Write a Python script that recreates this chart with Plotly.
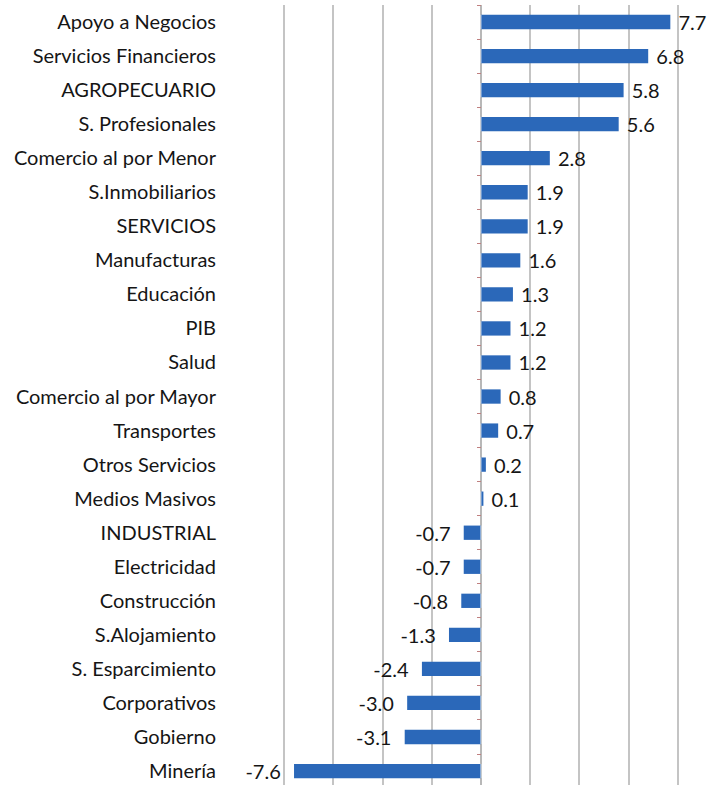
import plotly.graph_objects as go

categories = ["Apoyo a Negocios", "Servicios Financieros", "AGROPECUARIO", "S. Profesionales",
              "Comercio al por Menor", "S.Inmobiliarios", "SERVICIOS", "Manufacturas", "Educación",
              "PIB", "Salud", "Comercio al por Mayor", "Transportes", "Otros Servicios",
              "Medios Masivos", "INDUSTRIAL", "Electricidad", "Construcción", "S.Alojamiento",
              "S. Esparcimiento", "Corporativos", "Gobierno", "Minería"]
values = [7.7, 6.8, 5.8, 5.6, 2.8, 1.9, 1.9, 1.6, 1.3, 1.2, 1.2, 0.8, 0.7, 0.2, 0.1,
          -0.7, -0.7, -0.8, -1.3, -2.4, -3.0, -3.1, -7.6]

NB = "\u00a0"
labels = [(NB + f"{v:.1f}") if v >= 0 else (f"{v:.1f}" + NB * 2) for v in values]

FONT = "Lato, sans-serif"
xmin, xmax = -10, 9.76
yrange = [22.41, -0.5]

fig = go.Figure()
fig.add_trace(go.Bar(
    x=values, y=categories, orientation="h",
    marker=dict(color="#2b68b9", line=dict(width=0)),
    width=0.42,
    text=labels, textposition="outside", cliponaxis=False, constraintext="none",
    textfont=dict(family=FONT, size=20, color="#151515"),
    hoverinfo="x+y",
    showlegend=False,
))
# invisible trace on secondary y axis for zero-axis tick marks
fig.add_trace(go.Bar(x=[0] * len(categories), y=categories, orientation="h",
                     yaxis="y2", marker=dict(color="rgba(0,0,0,0)"), showlegend=False,
                     hoverinfo="skip"))

fig.update_layout(
    width=721, height=785,
    margin=dict(l=235, r=0, t=5, b=0),
    paper_bgcolor="white", plot_bgcolor="white",
    bargap=0.58,
    xaxis=dict(range=[xmin, xmax], dtick=2, tick0=0, showgrid=True, gridcolor="#c4c4c4",
               gridwidth=2, showticklabels=False, zeroline=True, zerolinecolor="#b8b8b8",
               zerolinewidth=2, showline=False, ticks=""),
    yaxis=dict(categoryorder="array", categoryarray=categories,
               range=yrange, autorange=False, showgrid=False, showline=False, ticks="",
               tickfont=dict(family=FONT, size=20, color="#151515"),
               ticklabelstandoff=18),
    yaxis2=dict(overlaying="y", anchor="free", categoryorder="array", categoryarray=categories,
                range=yrange, autorange=False,
                position=(0 - xmin) / (xmax - xmin), side="left",
                showticklabels=False, showgrid=False, showline=False,
                ticks="outside", ticklen=4, tickcolor="#c08080", tickwidth=1,
                tickson="boundaries"),
)

fig.write_html("out.html", config={"displayModeBar": False},
               post_script="document.body.style.margin='0';document.body.style.overflow='hidden';")
